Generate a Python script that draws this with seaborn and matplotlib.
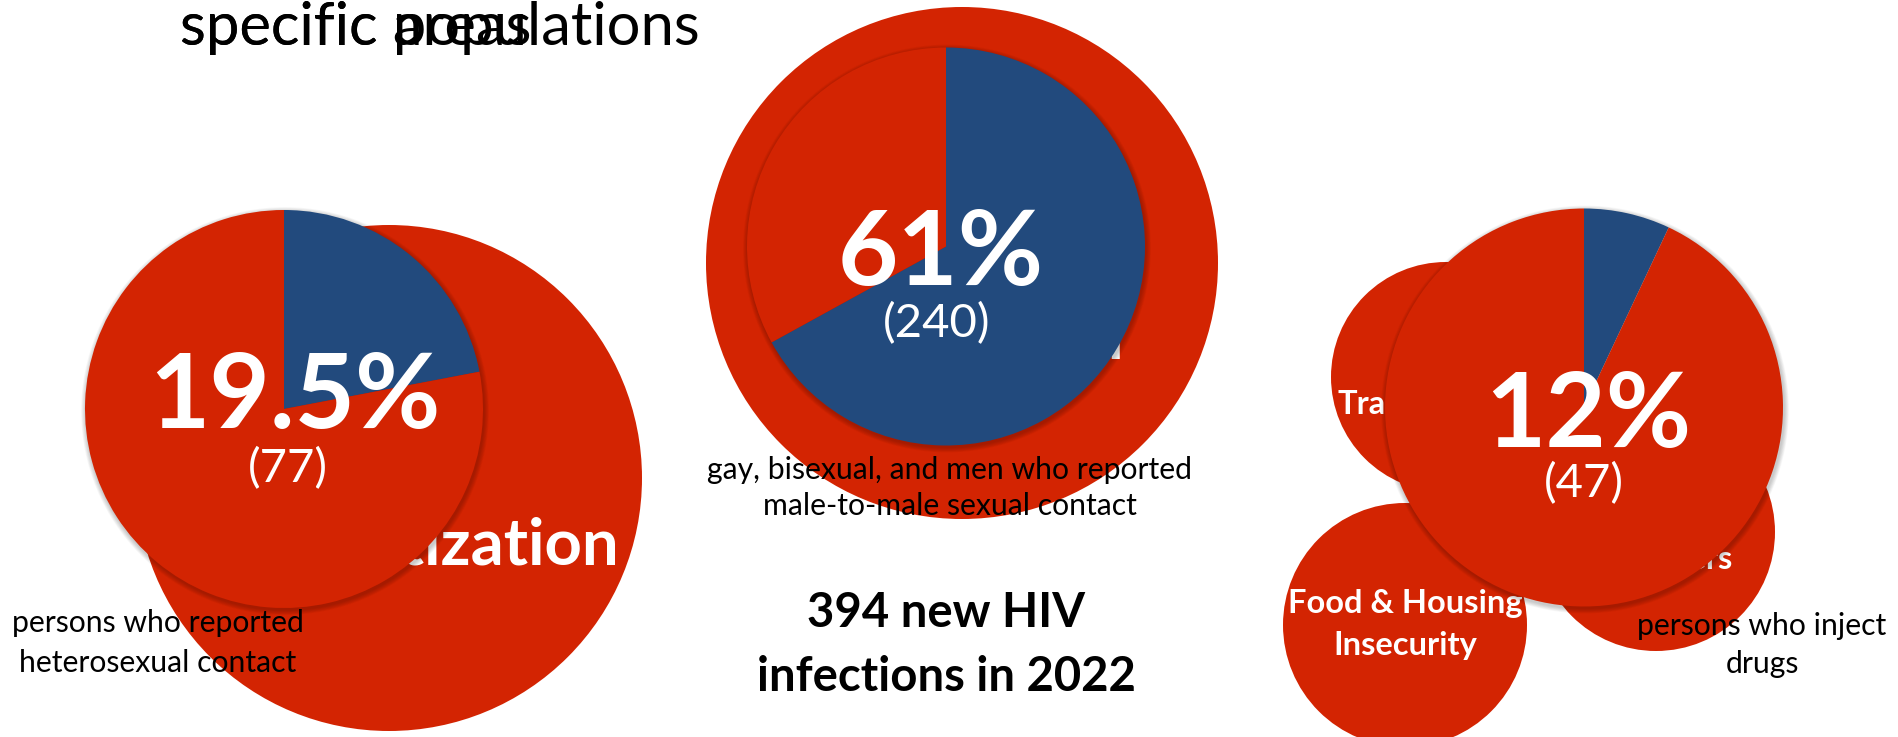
# =====================================================
# NEW HIV INFECTIONS 2022 - SLIDE WITH PIE CIRCLES
# =====================================================

import matplotlib.pyplot as plt
import seaborn as sns
from matplotlib.patches import Circle

# -----------------------------
# DATA
# -----------------------------

group_names = ["heterosexual contact", "male-to-male sexual contact", "injection drug use"]
pct_text = ["19.5%", "61%", "12%"]
case_counts = [77, 240, 47]
# blue slice as it is drawn in each pie (percent of the circle)
blue_share = [22, 67, 7]

total_new = 394
year = 2022

desc_lines = [
    ["persons who reported", "heterosexual contact"],
    ["gay, bisexual, and men who reported", "male-to-male sexual contact"],
    ["persons who inject", "drugs"],
]

# labels of the circles behind the pies (mostly hidden)
factor_labels = ["Stigmatization", "Racism", "Transportation", "Food & Housing", "Insecurity", "Barriers"]

title_words = ["specific populations", "specific areas"]

# -----------------------------
# STYLE
# -----------------------------

sns.set_theme(style="white")
plt.rcParams["font.family"] = ["Lato", "DejaVu Sans"]

palette = sns.color_palette(["#224A7D", "#D32402"])
BLUE, RED = palette[0], palette[1]

W, H = 1898, 737
fig = plt.figure(figsize=(W / 100, H / 100), dpi=100)
ax = fig.add_axes([0, 0, 1, 1])

# layout in pixel units (y from the top)
pie_xy = [(284, 409), (946, 246.5), (1584, 407.5)]
pie_r = 199
back_circles = [(389, 478, 253), (962, 263, 256), (1446, 377, 115), (1405, 625, 122), (1656, 532, 119)]


def shadow(cx, cy, r):
    for k in range(1, 8):
        ax.add_patch(Circle((cx + 1, cy + 2), r + k * 0.7, color="black", alpha=0.03, lw=0, zorder=3))


# -----------------------------
# BACK CIRCLES + HIDDEN TEXT
# -----------------------------

for cx, cy, r in back_circles:
    ax.add_patch(Circle((cx, cy), r, color=RED, lw=0, zorder=1))

bold_white = dict(color="white", fontweight="bold", va="baseline", zorder=2)
ax.text(619, 565, factor_labels[0], ha="right", fontsize=47, **bold_white)
ax.text(1124, 358, factor_labels[1], ha="right", fontsize=47, **bold_white)
ax.text(1338, 414, factor_labels[2], ha="left", fontsize=23.5, **bold_white)
ax.text(1405, 613, factor_labels[3], ha="center", fontsize=23.5, **bold_white)
ax.text(1405, 655, factor_labels[4], ha="center", fontsize=23.5, **bold_white)
ax.text(1733, 569, factor_labels[5], ha="right", fontsize=23.5, **bold_white)

# -----------------------------
# PIES
# -----------------------------

for i in range(len(group_names)):
    cx, cy = pie_xy[i]
    shadow(cx, cy, pie_r)
    ax.pie([blue_share[i], 100 - blue_share[i]], colors=[BLUE, RED],
           startangle=-90, counterclock=True, center=(cx, cy), radius=pie_r,
           frame=True, wedgeprops=dict(linewidth=0, zorder=4))

# percent + count labels
pct_pos = [(295, 428), (941, 285), (1588, 447)]
cnt_pos = [(288, 469), (937, 324), (1584, 484)]
for i in range(len(group_names)):
    ax.text(pct_pos[i][0], pct_pos[i][1], pct_text[i], ha="center", va="baseline",
            fontsize=75, fontweight="bold", color="white", zorder=6)
    ax.text(cnt_pos[i][0], cnt_pos[i][1], "(" + str(case_counts[i]) + ")", ha="center", va="center",
            fontsize=34, color="white", zorder=6)

# -----------------------------
# DESCRIPTIONS
# -----------------------------

desc_pos = [(158, [632, 672]), (950, [479, 515]), (1762, [635, 673])]
for i in range(len(desc_lines)):
    x, ys = desc_pos[i]
    for line, y in zip(desc_lines[i], ys):
        ax.text(x, y, line, ha="center", va="baseline", fontsize=21.7, color="black", zorder=7)

# -----------------------------
# TITLES
# -----------------------------

for t in title_words:
    ax.text(180, 45, t, ha="left", va="baseline", fontsize=43, color="black", zorder=7)

ax.text(946, 627, f"{total_new} new HIV", ha="center", va="baseline",
        fontsize=34, fontweight="bold", color="black", zorder=7)
ax.text(946, 691, f"infections in {year}", ha="center", va="baseline",
        fontsize=34, fontweight="bold", color="black", zorder=7)

ax.set_xlim(0, W)
ax.set_ylim(H, 0)
ax.axis("off")

fig.savefig("out.png", dpi=100)
